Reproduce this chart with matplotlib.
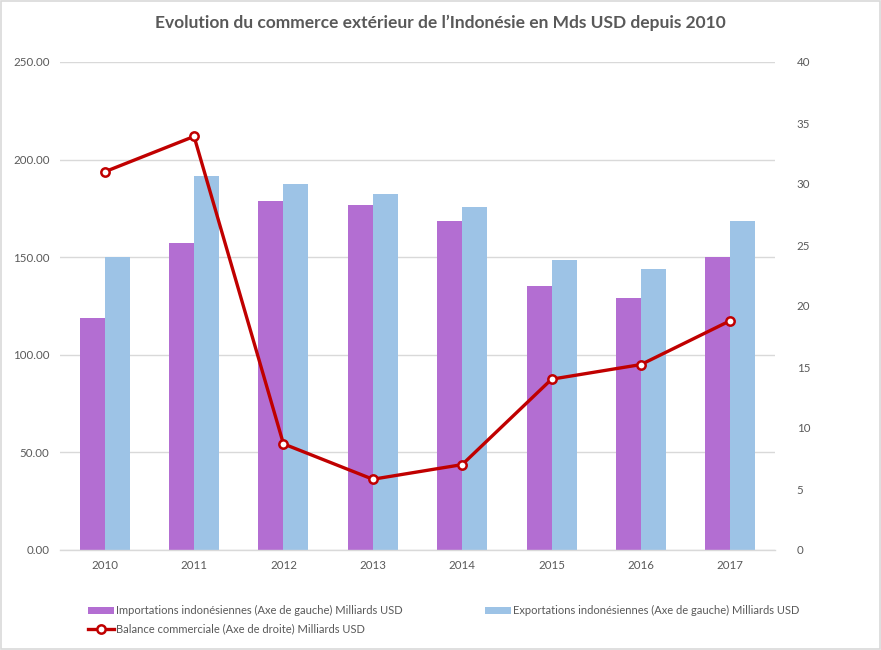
import matplotlib
matplotlib.use("Agg")
import matplotlib.pyplot as plt
import numpy as np
from matplotlib.lines import Line2D
from matplotlib.patches import Patch, Rectangle

years = ["2010", "2011", "2012", "2013", "2014", "2015", "2016", "2017"]
imports_ = [118.8, 157.2, 178.7, 176.6, 168.5, 135.2, 129.2, 150.0]
exports_ = [150.2, 191.5, 187.4, 182.3, 175.6, 148.6, 143.9, 168.4]
balance = [31.0, 33.9, 8.7, 5.8, 7.0, 14.0, 15.2, 18.8]

left_ticks = [0, 50, 100, 150, 200, 250]
right_ticks = [0, 5, 10, 15, 20, 25, 30, 35, 40]

C_IMP = "#B36ED2"
C_EXP = "#9DC3E6"
C_BAL = "#C00000"
C_TXT = "#595959"
C_GRID = "#D9D9D9"

plt.rcParams['font.family'] = ['Lato', 'DejaVu Sans']

fig = plt.figure(figsize=(8.81, 6.50), dpi=100)
ax = fig.add_axes([60/881, 1-550/650, 715/881, 488/650])
x = np.arange(len(years))
w = 0.28
ax.bar(x - w/2, imports_, width=w, color=C_IMP, zorder=2)
ax.bar(x + w/2, exports_, width=w, color=C_EXP, zorder=2)
ax.set_xlim(-0.5, len(years) - 0.5)
ax.set_ylim(0, 250)
ax.set_yticks(left_ticks)
ax.set_yticklabels([f"{v:.2f}" for v in left_ticks])
ax.set_xticks(x)
ax.set_xticklabels(years)
ax.yaxis.grid(True, color=C_GRID, linewidth=1.0, zorder=0)
ax.set_axisbelow(True)
for s in ['top', 'right', 'left']:
    ax.spines[s].set_visible(False)
ax.spines['bottom'].set_color(C_GRID)
ax.spines['bottom'].set_linewidth(1.0)
ax.tick_params(axis='both', length=0, colors=C_TXT, labelsize=8.3)
ax.tick_params(axis='y', pad=7.5)
ax.tick_params(axis='x', pad=7.5)

ax2 = ax.twinx()
ax2.plot(x, balance, color=C_BAL, linewidth=2.4, marker='o', markersize=6,
         markerfacecolor='white', markeredgecolor=C_BAL, markeredgewidth=1.8, zorder=3)
ax2.set_ylim(0, 40)
ax2.set_yticks(right_ticks)
ax2.set_yticklabels([str(v) for v in right_ticks])
for s in ['top', 'right', 'left', 'bottom']:
    ax2.spines[s].set_visible(False)
ax2.tick_params(axis='y', length=0, colors=C_TXT, labelsize=8.3, pad=15.5)

fig.text(0.5, 1-23/650, "Evolution du commerce extérieur de l\u2019Indonésie en Mds USD depuis 2010",
         ha='center', va='center', fontsize=12.5, fontweight='bold', color=C_TXT)

h_imp = Patch(facecolor=C_IMP, edgecolor='none')
h_exp = Patch(facecolor=C_EXP, edgecolor='none')
h_bal = Line2D([], [], color=C_BAL, linewidth=2.4, marker='o', markersize=6,
               markerfacecolor='white', markeredgecolor=C_BAL, markeredgewidth=1.8)
lab_imp = "Importations indonésiennes (Axe de gauche) Milliards USD"
lab_exp = "Exportations indonésiennes (Axe de gauche) Milliards USD"
lab_bal = "Balance commerciale (Axe de droite) Milliards USD"

leg1 = fig.legend([h_imp, h_bal], [lab_imp, lab_bal], loc='upper left',
                  bbox_to_anchor=(88/881, 1-605/650), frameon=False, fontsize=8.0,
                  labelcolor=C_TXT, handlelength=2.3, handleheight=0.6,
                  handletextpad=0.25, labelspacing=0.65, borderaxespad=0, borderpad=0)
leg2 = fig.legend([h_exp], [lab_exp], loc='upper left',
                  bbox_to_anchor=(485/881, 1-605/650), frameon=False, fontsize=8.0,
                  labelcolor=C_TXT, handlelength=2.3, handleheight=0.6,
                  handletextpad=0.25, borderaxespad=0, borderpad=0)

fig.patches.append(Rectangle((0.0015, 0.0015), 0.997, 0.997, transform=fig.transFigure,
                             fill=False, edgecolor=C_GRID, linewidth=1.2))

fig.savefig("out.png", dpi=100)
